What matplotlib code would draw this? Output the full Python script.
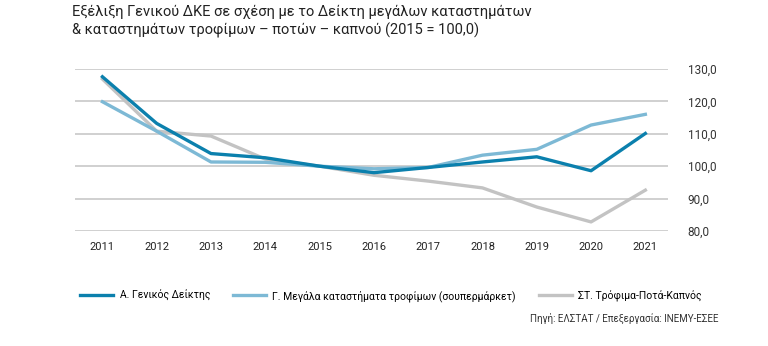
import matplotlib.pyplot as plt
from matplotlib.ticker import FuncFormatter

# Data (2015 = 100,0)
years = [2011, 2012, 2013, 2014, 2015, 2016, 2017, 2018, 2019, 2020, 2021]
general = [127.6, 113.2, 103.9, 102.6, 100.0, 98.0, 99.6, 101.3, 102.9, 98.6, 110.1]
supermarkets = [119.9, 110.8, 101.3, 101.2, 100.0, 99.2, 99.6, 103.4, 105.2, 112.7, 116.0]
food_drinks = [126.9, 110.8, 109.3, 102.2, 100.0, 97.2, 95.4, 93.3, 87.4, 82.8, 92.6]

labels = ['Α. Γενικός Δείκτης',
          'Γ. Μεγάλα καταστήματα τροφίμων (σουπερμάρκετ)',
          'ΣΤ. Τρόφιμα-Ποτά-Καπνός']
yticks = [80, 90, 100, 110, 120, 130]

plt.rcParams['font.family'] = ['Roboto', 'DejaVu Sans']

fig = plt.figure(figsize=(7.68, 3.46), dpi=100)
ax = fig.add_axes([0.098, 0.3324, 0.772, 0.4682])

ax.plot(years, food_drinks, color='#c3c3c3', lw=2.4, label=labels[2], zorder=3)
ax.plot(years, supermarkets, color='#7db9d5', lw=2.4, label=labels[1], zorder=4)
ax.plot(years, general, color='#0b80ad', lw=2.4, label=labels[0], zorder=5)

ax.set_xlim(2010.5, 2021.42)
ax.set_ylim(80, 130)
ax.set_yticks(yticks)
ax.set_xticks(years)
ax.yaxis.set_major_formatter(FuncFormatter(lambda v, p: f'{v:.1f}'.replace('.', ',')))
ax.yaxis.tick_right()
ax.tick_params(axis='y', length=0, pad=14, labelsize=8.5, colors='#333333')
ax.tick_params(axis='x', length=0, pad=8, labelsize=8, colors='#222222')
ax.grid(axis='y', color='#c8c8c8', lw=1.2)
ax.set_axisbelow(True)
for s in ax.spines.values():
    s.set_visible(False)

fig.text(0.094, 0.985, 'Εξέλιξη Γενικού ΔΚΕ σε σχέση με το Δείκτη μεγάλων καταστημάτων\n'
         '& καταστημάτων τροφίμων – ποτών – καπνού (2015 = 100,0)',
         ha='left', va='top', fontsize=10.5, color='#222222', linespacing=1.25)

h, l = ax.get_legend_handles_labels()
order = [2, 1, 0]
fig.legend([h[i] for i in order], [l[i] for i in order], loc='center left',
           bbox_to_anchor=(0.092, 0.145), ncol=3, frameon=False, fontsize=7.5,
           handlelength=3.2, handletextpad=0.6, columnspacing=2.2)

fig.text(0.935, 0.08, 'Πηγή: ΕΛΣΤΑΤ / Επεξεργασία: ΙΝΕΜΥ-ΕΣΕΕ', ha='right', va='center',
         fontsize=7, color='#333333')

fig.savefig('out.png', dpi=100)
